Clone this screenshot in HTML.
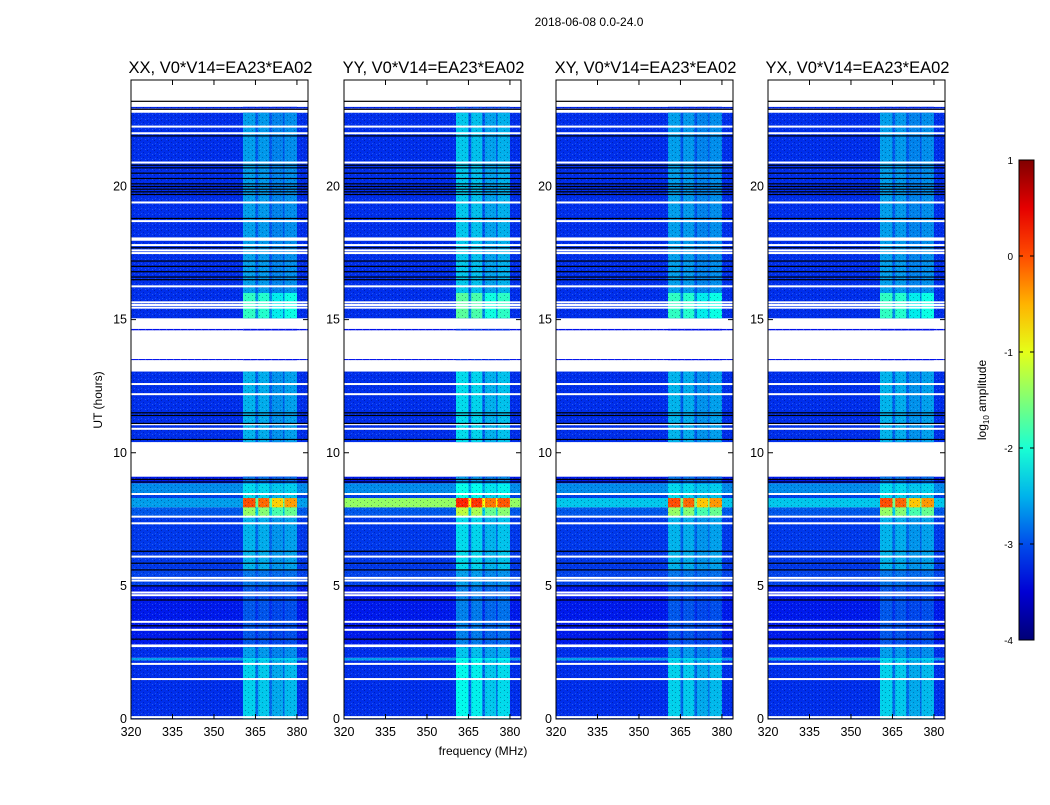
<!DOCTYPE html>
<html><head><meta charset="utf-8"><style>
body{margin:0;background:#fff;width:1050px;height:800px;overflow:hidden}
svg text{font-family:"Liberation Sans",sans-serif}
</style></head><body>
<svg id="fig" width="1050" height="800">
<text x="589" y="26" font-size="12" text-anchor="middle">2018-06-08 0.0-24.0</text>
<text x="483" y="755" font-size="12" text-anchor="middle">frequency (MHz)</text>
<text transform="translate(102,400) rotate(-90)" font-size="12" text-anchor="middle">UT (hours)</text>
<text transform="translate(986,400) rotate(-90)" font-size="12" text-anchor="middle">log<tspan font-size="8" dy="3">10</tspan><tspan dy="-3"> amplitude</tspan></text>
</svg>
<script>
const panelTitles=["XX, V0*V14=EA23*EA02","YY, V0*V14=EA23*EA02","XY, V0*V14=EA23*EA02","YX, V0*V14=EA23*EA02"];
const panelLefts=[131,344,556,768];
const xTicks=[320,335,350,365,380];
const yTicks=[0,5,10,15,20];
const cbTicks=[1,0,-1,-2,-3,-4];
// RFI channel blocks [startMHz,endMHz,relative strength]
const rfiCols=[[360.5,365,1.0],[366,370,0.95],[371,375,0.75],[375.5,380,0.85]];
// time segments [startH,endH,baseLevel,rfiLevel]
const segStart=[0,2.2,2.3,2.8,5.0,5.6,7.6,7.95,8.3,8.45,8.85,10.4,13.48,14.6,15.05,16.0,22.93];
const segEnd=[2.2,2.3,2.7,5.0,5.6,7.6,7.95,8.3,8.45,8.85,9.1,13.05,13.52,14.65,16.0,22.77,22.99];
const segBase=[-3.15,-2.6,-3.15,-3.25,-3.05,-3.1,-2.95,-2.6,-3.05,-2.7,-3.25,-3.15,-3.3,-3.3,-3.15,-3.15,-3.2];
const segRfi=[-2.35,-2.3,-2.6,-2.95,-2.8,-2.5,-1.4,0.0,-2.3,-2.3,-2.8,-2.5,-3.3,-3.3,-1.9,-2.6,-3.2];
// per-panel level in the 7.95-8.3h band outside RFI, and RFI offset
const bandBase=[-2.6,-1.4,-2.4,-2.4];
const panelRfiOffset=[0,0.2,0,0];
const whiteLines=[0.07,1.5,2.07,2.75,3.35,3.65,4.65,4.75,5.2,5.3,6.1,7.35,7.6,8.45,10.9,11.07,12.2,12.58,15.45,15.55,15.65,16.25,17.5,17.6,17.8,18.0,18.05,18.7,19.4,20.9,22.0,22.25];
const blackLines=[3.0,3.5,4.47,5.0,5.6,5.85,6.3,8.9,9.0,10.5,11.1,11.4,11.5,16.5,16.6,16.8,17.0,17.2,17.7,18.8,19.7,19.8,19.9,20.0,20.1,20.3,20.5,20.7,20.8,21.9,22.9,23.2];

const NS="http://www.w3.org/2000/svg";
const svg=document.getElementById('fig');
const PT=80,PH=639,PW=177,F0=320,F1=384;
function jet(v){let t=(v+4)/5;t=Math.max(0,Math.min(1,t));
 const r=Math.max(0,Math.min(1,1.5-Math.abs(4*t-3))),g=Math.max(0,Math.min(1,1.5-Math.abs(4*t-2))),b=Math.max(0,Math.min(1,1.5-Math.abs(4*t-1)));
 return `rgb(${Math.round(r*255)},${Math.round(g*255)},${Math.round(b*235)})`;}
function mk(tag,attrs,parent){const e=document.createElementNS(NS,tag);for(const k in attrs)e.setAttribute(k,attrs[k]);(parent||svg).appendChild(e);return e;}
const defs=mk('defs',{});
// speckle texture
const pat=mk('pattern',{id:'speck',width:7,height:5,patternUnits:'userSpaceOnUse'},defs);
mk('rect',{x:0,y:0,width:1,height:1,fill:'rgba(0,0,60,0.35)'},pat);
mk('rect',{x:3,y:2,width:1,height:1,fill:'rgba(0,0,60,0.3)'},pat);
mk('rect',{x:5,y:4,width:1,height:1,fill:'rgba(120,200,255,0.3)'},pat);
mk('rect',{x:1,y:3,width:1,height:1,fill:'rgba(120,200,255,0.25)'},pat);
const yS=h=>PT+PH-h/24*PH;
panelLefts.forEach((L,p)=>{
 const xS=f=>L+(f-F0)/(F1-F0)*PW;
 const g=mk('g',{});
 
 
 segStart.forEach((s,i)=>{
  const inBand=s===7.95;
  const base=inBand?bandBase[p]:segBase[i];
  const r=mk('rect',{x:L,y:yS(segEnd[i]),width:PW,height:yS(s)-yS(segEnd[i]),fill:jet(base)},g);
  
  
  const gl=mk('rect',{x:xS(rfiCols[0][0]),y:yS(segEnd[i]),width:xS(rfiCols[3][1])-xS(rfiCols[0][0]),height:yS(s)-yS(segEnd[i]),fill:jet(base+(segRfi[i]-base)*0.35)},g);
  
  
  rfiCols.forEach(c=>{
   const v=base+(segRfi[i]+panelRfiOffset[p]-base)*c[2];
   const cr=mk('rect',{x:xS(c[0]),y:yS(segEnd[i]),width:xS(c[1])-xS(c[0]),height:yS(s)-yS(segEnd[i]),fill:jet(v)},g);
   
   
  });
  const tx=mk('rect',{x:L,y:yS(segEnd[i]),width:PW,height:yS(s)-yS(segEnd[i]),fill:'url(#speck)'},g);
  
  
 });
 whiteLines.forEach(h=>{const w=mk('rect',{x:L,y:yS(h)-1,width:PW,height:2,fill:'#fff'},g);
  
  });
 blackLines.forEach(h=>{const w=mk('rect',{x:L,y:yS(h)-0.6,width:PW,height:1.2,fill:'#000'},g);
  
  });
 const fr=mk('rect',{x:L,y:PT,width:PW,height:PH,fill:'none',stroke:'#000','stroke-width':1},g);
 
 
 const t=mk('text',{x:L+PW/2+1,y:73,'font-size':16.5,'text-anchor':'middle'},g);t.textContent=panelTitles[p];
 
 
 xTicks.forEach(f=>{const x=xS(f);
  mk('line',{x1:x,x2:x,y1:PT+PH,y2:PT+PH-5,stroke:'#000'},g);mk('line',{x1:x,x2:x,y1:PT,y2:PT+5,stroke:'#000'},g);
  const tl=mk('text',{x:x,y:736,'font-size':12.5,'text-anchor':'middle'},g);tl.textContent=f;
  
  });
 yTicks.forEach(h=>{const y=yS(h);
  mk('line',{x1:L,x2:L+5,y1:y,y2:y,stroke:'#000'},g);mk('line',{x1:L+PW,x2:L+PW-5,y1:y,y2:y,stroke:'#000'},g);
  const tl=mk('text',{x:L-4,y:y+4,'font-size':12.5,'text-anchor':'end'},g);tl.textContent=h;
  
  });
});
// colorbar
const CX=1019,CW=15,CT=160,CB=640;
const cbY=v=>CB-(v+4)/5*(CB-CT);
const cg=mk('g',{});


const lg=mk('linearGradient',{id:'jetg',x1:0,y1:1,x2:0,y2:0},defs);
for(let i=0;i<=10;i++)mk('stop',{offset:i/10,'stop-color':jet(-4+i/2)},lg);
mk('rect',{x:CX,y:CT,width:CW,height:CB-CT,fill:'url(#jetg)',stroke:'#000'},cg);
cbTicks.forEach(v=>{const y=cbY(v);mk('line',{x1:CX,x2:CX+4,y1:y,y2:y,stroke:'#000'},cg);mk('line',{x1:CX+CW,x2:CX+CW-4,y1:y,y2:y,stroke:'#000'},cg);
 const tl=mk('text',{x:1013,y:y+4,'font-size':10,'text-anchor':'end'},cg);tl.textContent=v;
 
 });
</script>
</body></html>
